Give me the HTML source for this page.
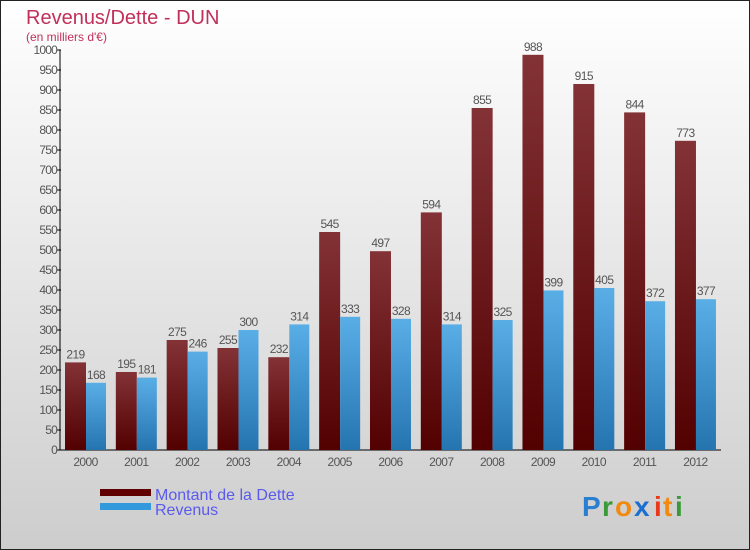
<!DOCTYPE html>
<html><head><meta charset="utf-8"><style>
body{margin:0}
svg{display:block;font-family:"Liberation Sans",sans-serif}
</style></head><body>
<svg width="750" height="550" viewBox="0 0 750 550">
<defs>
<linearGradient id="bg" x1="0" y1="0" x2="0" y2="1"><stop offset="0" stop-color="#ffffff"/><stop offset="1" stop-color="#cdcdcd"/></linearGradient>
<linearGradient id="gd" x1="0" y1="0" x2="0" y2="1"><stop offset="0" stop-color="#833236"/><stop offset="1" stop-color="#520000"/></linearGradient>
<linearGradient id="gr" x1="0" y1="0" x2="0" y2="1"><stop offset="0" stop-color="#5aaee6"/><stop offset="1" stop-color="#2474b0"/></linearGradient>
</defs>
<rect x="0.5" y="0.5" width="749" height="549" fill="url(#bg)" stroke="#222"/>
<text x="26" y="24" font-size="20" fill="#c0305a">Revenus/Dette - DUN</text>
<text x="26" y="41" font-size="12" fill="#c0305a">(en milliers d'€)</text>
<g id="axes"></g>
<g id="bars"></g>
<rect x="100" y="489" width="51" height="7" fill="#600000"/>
<text x="155" y="500" font-size="16" fill="#5a5aee">Montant de la Dette</text>
<rect x="100" y="503" width="51" height="7" fill="#3399dd"/>
<text x="155" y="515" font-size="16" fill="#5a5aee">Revenus</text>
<g font-size="28" font-weight="bold">
<text x="582" y="516" fill="#2a7fd0">P</text><text x="602" y="516" fill="#3a9a3a">r</text><text x="615" y="516" fill="#f08a10">o</text><text x="634" y="516" fill="#1a6fd0">x</text><text x="654" y="516" fill="#e83a1a">i</text><text x="663" y="516" fill="#f08a10">t</text><text x="675" y="516" fill="#3a9a3a">i</text>
</g>
</svg>
<script>
const years=["2000","2001","2002","2003","2004","2005","2006","2007","2008","2009","2010","2011","2012"];
const dette=[219,195,275,255,232,545,497,594,855,988,915,844,773];
const revenus=[168,181,246,300,314,333,328,314,325,399,405,372,377];
const ticks=[0,50,100,150,200,250,300,350,400,450,500,550,600,650,700,750,800,850,900,950,1000];
const NS="http://www.w3.org/2000/svg";
const y=v=>450-v*0.4;
const gx=i=>65+i*50.83;
function mk(tag,attrs,parent,txt){const e=document.createElementNS(NS,tag);for(const k in attrs)e.setAttribute(k,attrs[k]);if(txt!==undefined)e.textContent=txt;parent.appendChild(e);return e;}
const ax=document.getElementById('axes'),bg=document.getElementById('bars');
let l=mk('line',{x1:60,y1:50,x2:60,y2:450,stroke:'#000'},ax);


l=mk('line',{x1:60,y1:450,x2:721,y2:450,stroke:'#000'},ax);


ticks.forEach(t=>{
 let tk=mk('line',{x1:57,y1:y(t),x2:61,y2:y(t),stroke:'#000'},ax);
 
 
 let tl=mk('text',{x:57,y:y(t)+4,'font-size':12,fill:'#555','text-anchor':'end','letter-spacing':'-0.8'},ax,String(t));
 
 
});
years.forEach((yr,i)=>{
 const x=gx(i);
 let xl=mk('text',{x:x+20.5,y:466,'font-size':12,fill:'#555','text-anchor':'middle','letter-spacing':'-0.6'},ax,yr);
 
 
 let b=mk('rect',{x:x,y:y(dette[i]),width:21,height:dette[i]*0.4,fill:'url(#gd)'},bg);
 
 
 let t=mk('text',{x:x+10.5,y:y(dette[i])-4,'font-size':12,fill:'#555','text-anchor':'middle','letter-spacing':'-0.6'},bg,String(dette[i]));
 
 
 b=mk('rect',{x:x+21,y:y(revenus[i]),width:20,height:revenus[i]*0.4,fill:'url(#gr)'},bg);
 
 
 t=mk('text',{x:x+31,y:y(revenus[i])-4,'font-size':12,fill:'#555','text-anchor':'middle','letter-spacing':'-0.6'},bg,String(revenus[i]));
 
 
});
</script>
</body></html>
